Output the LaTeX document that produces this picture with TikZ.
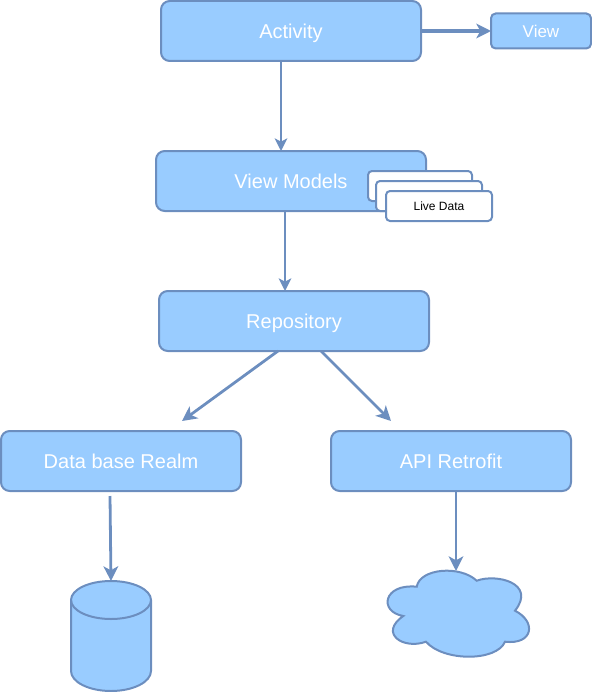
\documentclass[tikz,border=0pt]{standalone}
\usepackage{fontspec}
\setmainfont{Liberation Sans}
\usetikzlibrary{arrows.meta,calc}
\definecolor{boxfill}{HTML}{99CCFF}
\definecolor{boxline}{HTML}{6C8EBF}
\tikzset{
    block/.style={draw=boxline,fill=boxfill,line width=1.5pt,rounded corners=6.5pt,text=white,font=\fontsize{15}{18}\selectfont,inner sep=0pt,outer sep=0pt,minimum height=45pt,text height=10.9pt,text depth=0pt},
    card/.style={draw=boxline,fill=white,line width=1.5pt,rounded corners=3pt,font=\fontsize{9}{11}\selectfont,inner sep=0pt,outer sep=0pt,minimum height=22.5pt,text height=6.6pt,text depth=0pt},
    flow/.style={draw=boxline,line width=1.5pt,->},
    heavyflow/.style={flow,line width=2.1pt,>={Stealth[length=11pt,width=11pt,inset=3pt]}},
}
\begin{document}
\begin{tikzpicture}[x=.75pt,y=-.75pt,>={Stealth[length=9.5pt,width=9.5pt,inset=2.5pt]}]
\useasboundingbox (0,0) rectangle (592,692);

\node[block,minimum width=195pt] (activity) at (291,31){Activity};
\node[block,minimum width=75pt,minimum height=26.25pt,rounded corners=3.5pt,font=\fontsize{12.75}{15}\selectfont,text height=9.2pt] (view) at (541,31){View};
\node[block,minimum width=202.5pt] (viewmodels) at (291,181){View Models};
\node[block,minimum width=202.5pt] (repository) at (294,321){Repository};
\node[block,minimum width=180pt] (database) at (121,461){Data base Realm};
\node[block,minimum width=180pt] (api) at (451,461){API Retrofit};

% stacked cards
\node[card,minimum width=78pt] (cardback) at (420,186){};
\node[card,minimum width=79.5pt] (cardmid) at (429,196){};
\node[card,minimum width=79.5pt] (livedata) at (439,206){Live Data};

% cylinder
\draw[draw=boxline,fill=boxfill,line width=1.5pt] (71,600) arc[start angle=180,end angle=360,x radius=40,y radius=19]
    -- (151,671) arc[start angle=0,end angle=180,x radius=40,y radius=20] -- cycle;
\draw[draw=boxline,line width=1.5pt] (71,600) arc[start angle=180,end angle=0,x radius=40,y radius=19];
\coordinate (dbtop) at (111,581);

% cloud
\draw[draw=boxline,fill=boxfill,line width=1.5pt] (416.7,586.7)
    .. controls (420,568.3) and (460,565) .. (476.7,580.7)
    .. controls (496.7,573.3) and (536.7,583.3) .. (515,610.7)
    .. controls (536.7,621.7) and (533.3,645) .. (505,641.7)
    .. controls (496.7,661.7) and (443.3,661.7) .. (426,641.7)
    .. controls (403.3,650) and (378.3,633.3) .. (403.3,616)
    .. controls (378.3,611.7) and (383.3,583.3) .. (416.7,586.7) -- cycle;
\coordinate (cloudtop) at (456,571);

\draw[heavyflow,line width=2.5pt] (activity.east)--(view.west);
\draw[flow] ($(activity.south)+(-10,0)$)--($(viewmodels.north)+(-10,0)$);
\draw[flow] ($(viewmodels.south)+(-6,0)$)--($(repository.north)+(-9,0)$);
\draw[heavyflow] ($(repository.south)+(-16,0)$)--($(database.north)+(61,-10)$);
\draw[heavyflow] ($(repository.south)+(27,0)$)--($(api.north)+(-60,-10)$);
\draw[heavyflow] ($(database.south)+(-11,5)$)--(dbtop);
\draw[heavyflow] ($(api.south)+(5,0)$)--(cloudtop);
\end{tikzpicture}
\end{document}
